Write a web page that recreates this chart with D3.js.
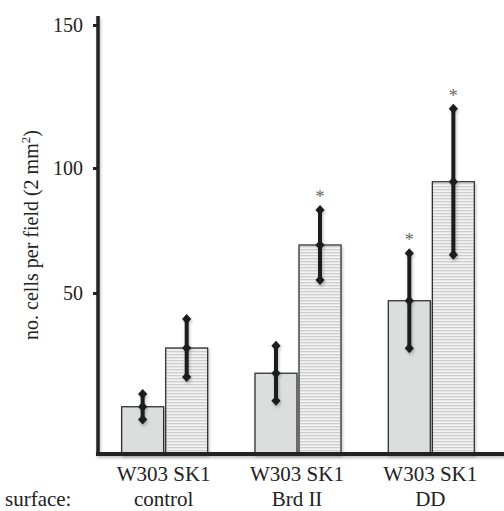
<!DOCTYPE html>
<html><head><meta charset="utf-8">
<script src="https://cdn.jsdelivr.net/npm/d3@7/dist/d3.min.js"></script>
<style>body{margin:0;background:#fff;}</style></head>
<body><svg id="c" width="504" height="511"></svg>
<script>
const groups = ["control", "Brd II", "DD"];
const strains = ["W303", "SK1"];
const means = { W303: [4.5, 17.9, 46.9], SK1: [28, 69.2, 94.5] };
const errs  = { W303: [5.1, 11, 19], SK1: [11.6, 14, 29.2] };
const signif = { W303: [false, false, true], SK1: [false, true, true] };
const yTicks = [50, 100, 150];

const FONT = '"Liberation Serif"';
const svg = d3.select("#c");
const defs = svg.append("defs");
const pat = defs.append("pattern").attr("id","stripes").attr("patternUnits","userSpaceOnUse")
  .attr("width",6).attr("height",3);
pat.append("rect").attr("width",6).attr("height",3).attr("fill","#f3f3f3");
pat.append("rect").attr("y",0).attr("width",6).attr("height",1.3).attr("fill","#cdcdcd");
const f = defs.append("filter").attr("id","sh").attr("x","-20%").attr("y","-20%").attr("width","140%").attr("height","140%");
f.append("feDropShadow").attr("dx",1).attr("dy",2).attr("stdDeviation",1.5).attr("flood-color","#000").attr("flood-opacity",0.25);

const x0 = d3.scaleBand().domain(groups).range([98, 498]).paddingInner(0.355).paddingOuter(0.1775);
const x1 = d3.scaleBand().domain(strains).range([0, x0.bandwidth()]).paddingInner(0.047);
const y = d3.scaleLinear().domain([-14.4, 130, 150]).range([454, 93, 25]);

const fills = { W303: "#dcdddd", SK1: "url(#stripes)" };

const txt = (sel) => sel.style("font-family", FONT).style("fill", "#222");

// bars
const g = svg.append("g");
groups.forEach((grp, i) => {
  strains.forEach(s => {
    g.append("rect")
      .attr("x", x0(grp) + x1(s))
      .attr("y", y(means[s][i]))
      .attr("width", x1.bandwidth())
      .attr("height", y(-14.4) - y(means[s][i]))
      .attr("fill", fills[s])
      .attr("stroke", "#333").attr("stroke-width", 1.3)
      .attr("filter","url(#sh)");
  });
});

// error bars
const diamond = (cx, cy) => `M${cx},${cy-5}L${cx+4.6},${cy}L${cx},${cy+5}L${cx-4.6},${cy}Z`;
groups.forEach((grp, i) => {
  strains.forEach(s => {
    const cx = x0(grp) + x1(s) + x1.bandwidth()/2;
    const m = means[s][i], e = errs[s][i];
    const eg = svg.append("g").attr("filter","url(#sh)");
    eg.append("line").attr("x1",cx).attr("x2",cx).attr("y1",y(m+e)).attr("y2",y(m-e))
      .attr("stroke","#1c1c1c").attr("stroke-width",4);
    [m+e, m, m-e].forEach(v => eg.append("path").attr("d", diamond(cx, y(v))).attr("fill","#1c1c1c"));
    if (signif[s][i]) {
      svg.append("text").attr("x", cx).attr("y", y(m+e) - 7)
        .attr("text-anchor","middle").attr("font-size",18)
        .style("font-family", FONT).style("fill","#666").text("*");
    }
  });
});

// axes
const ax = svg.append("g").attr("filter","url(#sh)");
ax.append("line").attr("x1",98).attr("x2",98).attr("y1",16).attr("y2",456)
  .attr("stroke","#222").attr("stroke-width",3.5);
ax.append("line").attr("x1",96).attr("x2",504).attr("y1",y(-14.4)).attr("y2",y(-14.4))
  .attr("stroke","#222").attr("stroke-width",4);

const yAxis = d3.axisLeft(y).tickValues(yTicks).tickSize(5).tickPadding(10);
const ya = svg.append("g").attr("transform","translate(98,0)").call(yAxis);
ya.select(".domain").remove();
ya.attr("font-family", null);
ya.selectAll(".tick line").attr("stroke","#222").attr("stroke-width",3);
ya.selectAll(".tick text").attr("font-size",20).call(txt);

// x labels
groups.forEach(grp => {
  const cx = x0(grp) + x0.bandwidth()/2 - 1;
  svg.append("text").attr("x",cx).attr("y",481).attr("text-anchor","middle").attr("font-size",21)
    .call(txt).text(strains.join(" "));
  svg.append("text").attr("x",cx).attr("y",506).attr("text-anchor","middle").attr("font-size",21)
    .call(txt).text(grp);
});
svg.append("text").attr("x",5).attr("y",506).attr("font-size",21).call(txt).text("surface:");

// y title
const yt = svg.append("text").attr("transform","translate(38,235) rotate(-90)")
  .attr("text-anchor","middle").attr("font-size",20).call(txt);
yt.append("tspan").text("no. cells per field (2 mm");
yt.append("tspan").attr("font-size",13).attr("dy",-8).text("2");
yt.append("tspan").attr("dy",8).text(")");
</script></body></html>
